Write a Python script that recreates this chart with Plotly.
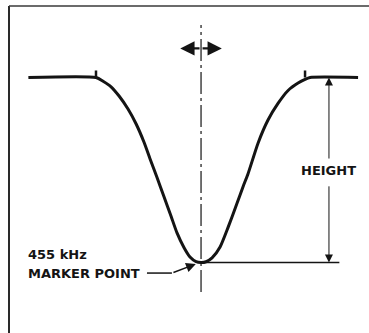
import plotly.graph_objects as go

# IF response dip around the 455 kHz marker (frequency in kHz, relative amplitude)
freq_khz = [438.4, 444.9, 445.58, 446.35, 447.12, 447.98, 448.75, 449.52, 450.10,
            450.77, 451.44, 452.12, 452.69, 453.37, 453.94, 454.52, 455.0,
            455.48, 456.06, 456.83, 457.60, 458.46, 459.04, 459.52, 460.48,
            461.44, 462.40, 463.37, 464.33, 465.0, 465.48, 470.1]
amplitude = [1.0, 1.0, 0.98, 0.95, 0.90, 0.83, 0.75, 0.65, 0.56,
             0.46, 0.355, 0.25, 0.16, 0.08, 0.03, 0.005, 0.0,
             0.004, 0.025, 0.084, 0.19, 0.32, 0.41, 0.48, 0.645,
             0.77, 0.86, 0.93, 0.97, 0.99, 1.0, 1.0]

marker_khz = 455.0
band_edges_khz = [444.9, 465.0]
tick_len = 0.038
sweep_khz = [453.0, 457.0]
sweep_level = 1.157
height_x_khz = 467.3
ref_line_end_khz = 468.3
center_line_span = [-0.16, 1.284]

ink = "#141414"
font = dict(family="DejaVu Sans", size=13, color=ink, weight="bold")

fig = go.Figure()

fig.add_trace(go.Scatter(
    x=freq_khz, y=amplitude, mode="lines",
    line=dict(color=ink, width=3, shape="spline", smoothing=0.6),
    hoverinfo="skip", showlegend=False))

# dash-dot center line through the marker frequency
fig.add_trace(go.Scatter(
    x=[marker_khz, marker_khz], y=center_line_span, mode="lines",
    line=dict(color=ink, width=1.2, dash="22px,4px,3px,4px"),
    hoverinfo="skip", showlegend=False))

shapes = []
# band edge ticks on the plateau
for f in band_edges_khz:
    shapes.append(dict(type="line", xref="x", yref="y", x0=f, x1=f,
                       y0=1.0, y1=1.0 + tick_len, line=dict(color=ink, width=2.5)))
# reference line from the marker point to the height dimension
shapes.append(dict(type="line", xref="x", yref="y", x0=marker_khz, x1=ref_line_end_khz,
                   y0=0.0, y1=0.0, line=dict(color=ink, width=1.5)))
# frame
shapes.append(dict(type="line", xref="paper", yref="paper", x0=0.0244, x1=0.0244,
                   y0=0.0, y1=0.982, line=dict(color="#2a2a2a", width=2)))
shapes.append(dict(type="line", xref="paper", yref="paper", x0=0.0244, x1=1.0,
                   y0=0.982, y1=0.982, line=dict(color="#3a3a3a", width=1.5)))

annotations = []
# sweep direction arrows
for f in sweep_khz:
    annotations.append(dict(x=f, y=sweep_level, ax=marker_khz, ay=sweep_level,
                            xref="x", yref="y", axref="x", ayref="y", text="",
                            showarrow=True, arrowhead=2, arrowsize=1.3, arrowwidth=2.2,
                            arrowcolor=ink, standoff=0, startstandoff=0))
# HEIGHT dimension arrows
annotations.append(dict(x=height_x_khz, y=1.0, ax=height_x_khz, ay=0.554,
                        xref="x", yref="y", axref="x", ayref="y", text="",
                        showarrow=True, arrowhead=2, arrowsize=1.6, arrowwidth=1,
                        arrowcolor=ink, standoff=0))
annotations.append(dict(x=height_x_khz, y=0.0, ax=height_x_khz, ay=0.42,
                        xref="x", yref="y", axref="x", ayref="y", text="",
                        showarrow=True, arrowhead=2, arrowsize=1.6, arrowwidth=1,
                        arrowcolor=ink, standoff=0))
annotations.append(dict(x=height_x_khz, y=0.497, xref="x", yref="y", text="HEIGHT",
                        showarrow=False, font=font, xanchor="center", yanchor="middle"))
# marker point label with leader
annotations.append(dict(x=438.2, y=0.046, xref="x", yref="y", text="455 kHz",
                        showarrow=False, font=font, xanchor="left", yanchor="middle"))
annotations.append(dict(x=438.2, y=-0.057, xref="x", yref="y", text="MARKER POINT",
                        showarrow=False, font=font, xanchor="left", yanchor="middle"))
shapes.append(dict(type="line", xref="x", yref="y", x0=449.8, x1=452.2,
                   y0=-0.057, y1=-0.057, line=dict(color=ink, width=1.5)))
annotations.append(dict(x=454.5, y=-0.008, ax=452.2, ay=-0.057,
                        xref="x", yref="y", axref="x", ayref="y", text="",
                        showarrow=True, arrowhead=2, arrowsize=1.3, arrowwidth=1.5,
                        arrowcolor=ink, standoff=0))

fig.update_layout(
    width=369, height=333, autosize=False,
    margin=dict(l=0, r=0, t=0, b=0),
    paper_bgcolor="white", plot_bgcolor="white",
    xaxis=dict(range=[435.67, 471.15], visible=False, fixedrange=True),
    yaxis=dict(range=[-0.381, 1.419], visible=False, fixedrange=True),
    shapes=shapes, annotations=annotations,
)

fig.write_html("out.html")
